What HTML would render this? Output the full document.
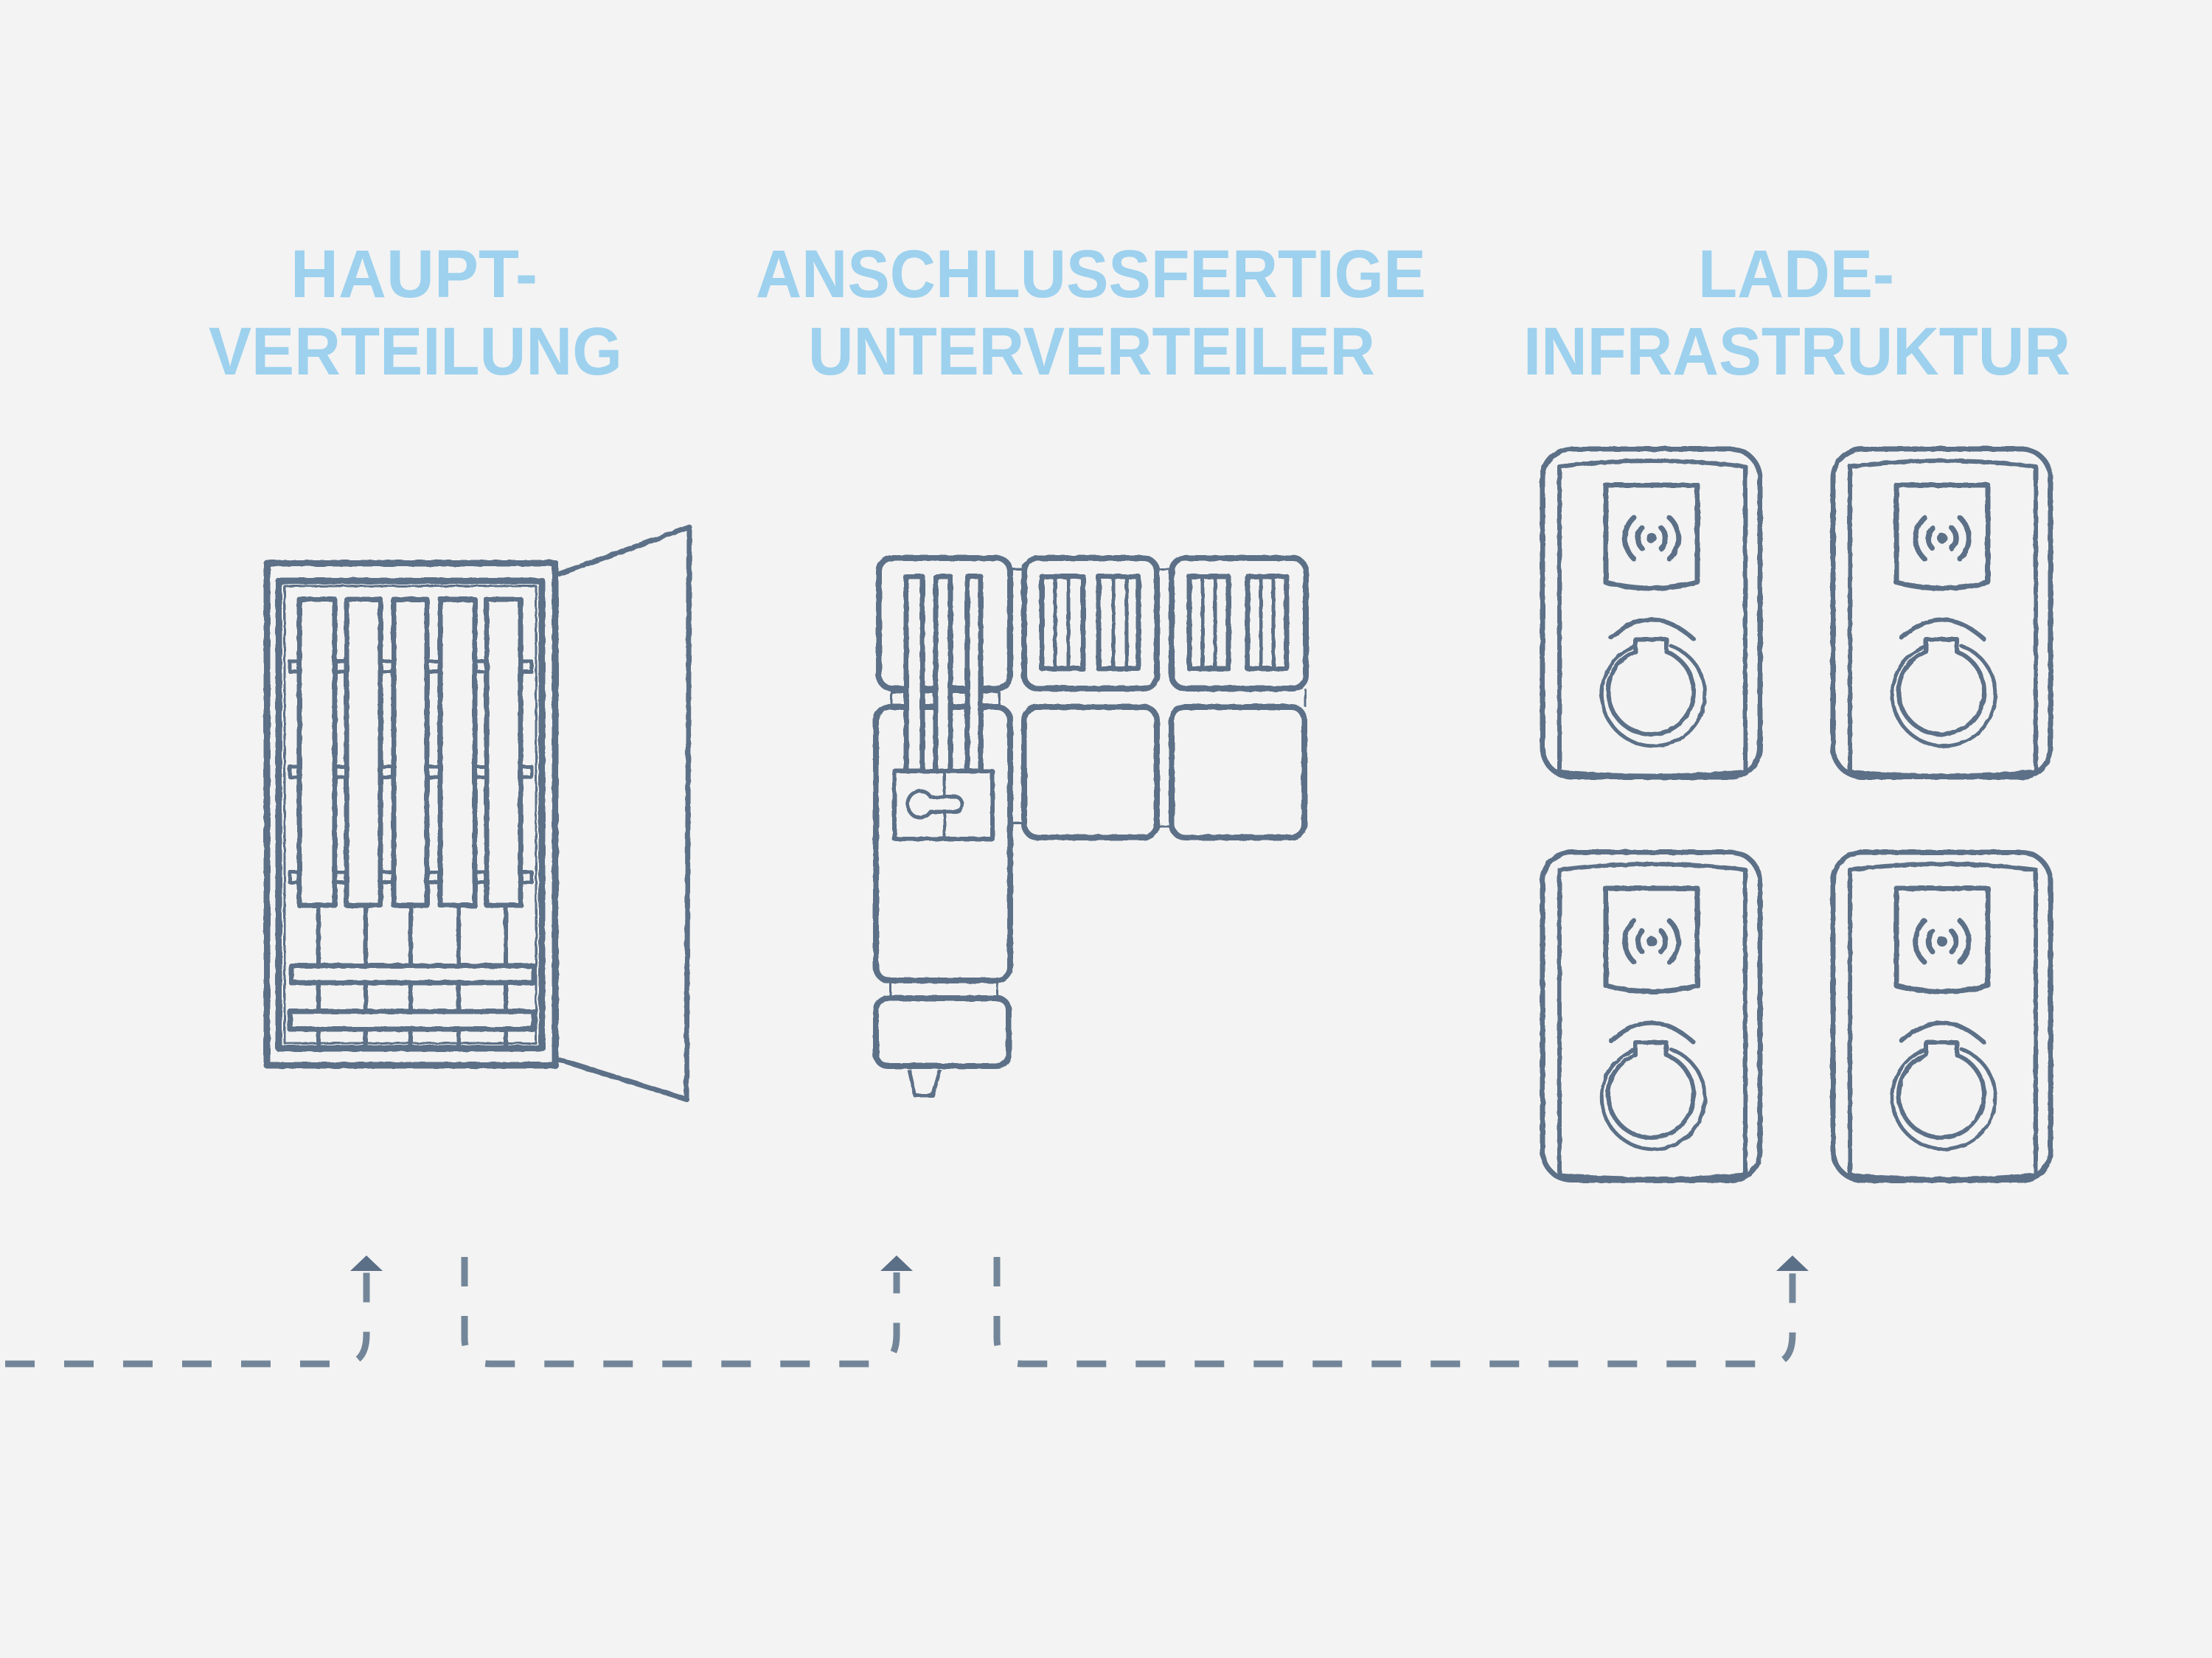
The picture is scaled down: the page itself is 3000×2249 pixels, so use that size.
<!DOCTYPE html>
<html><head><meta charset="utf-8"><style>
html,body{margin:0;padding:0;background:#f3f3f3;}
svg{display:block;}
</style></head><body>
<svg width="3000" height="2249" viewBox="0 0 3000 2249" xmlns="http://www.w3.org/2000/svg">
<defs>
<filter id="rough" x="-5%" y="-5%" width="110%" height="110%">
<feTurbulence type="fractalNoise" baseFrequency="0.08" numOctaves="2" seed="3"/>
<feDisplacementMap in="SourceGraphic" scale="3"/>
</filter>
<g id="charger" fill="none" stroke="#5b6f87" stroke-linecap="round" stroke-linejoin="round">
<rect x="2092" y="609" width="295" height="445" rx="40" stroke-width="7"/>
<path d="M2115,1047 V633 Q2240,617 2367,633 V1047 Q2240,1058 2115,1047 Z" stroke-width="6"/>
<path d="M2178,658 H2302 V790 Q2240,806 2178,790 Z" stroke-width="7"/>
<circle cx="2240" cy="730" r="7" fill="#5b6f87" stroke="none"/>
<path d="M2227,716 A20,20 0 0 0 2227,744 M2253,716 A20,20 0 0 1 2253,744" stroke-width="7"/>
<path d="M2216,702 A38,38 0 0 0 2216,758 M2264,702 A38,38 0 0 1 2264,758" stroke-width="7"/>
<path d="M2185,865 Q2240,815 2297,867" stroke-width="6"/>
<path d="M2216,877 A70,70 0 1 0 2266,876" stroke-width="5"/>
<path d="M2218,884 V867 H2260 V884 A58,58 0 1 1 2218,884 Z" stroke-width="6"/>
</g>
</defs>

<g font-family="'Liberation Sans', sans-serif" font-weight="bold" font-size="92" fill="#9dd1ee">
<text x="394" y="403" textLength="335" lengthAdjust="spacingAndGlyphs">HAUPT-</text>
<text x="283" y="508" textLength="561" lengthAdjust="spacingAndGlyphs">VERTEILUNG</text>
<text x="1025" y="403" textLength="909" lengthAdjust="spacingAndGlyphs">ANSCHLUSSFERTIGE</text>
<text x="1096" y="508" textLength="769" lengthAdjust="spacingAndGlyphs">UNTERVERTEILER</text>
<text x="2303" y="403" textLength="266" lengthAdjust="spacingAndGlyphs">LADE-</text>
<text x="2066" y="508" textLength="742" lengthAdjust="spacingAndGlyphs">INFRASTRUKTUR</text>
</g>

<g filter="url(#rough)">
<!-- Main distribution cabinet -->
<g fill="none" stroke="#5b6f87" stroke-linejoin="round">
<rect x="362" y="764" width="391" height="681" stroke-width="9"/>
<rect x="378" y="788" width="357" height="634" stroke-width="9"/>
<rect x="386" y="795" width="341" height="620" stroke-width="3"/>
<rect x="393" y="897" width="328" height="14" stroke-width="5"/>
<rect x="393" y="1040" width="328" height="14" stroke-width="5"/>
<rect x="393" y="1183" width="328" height="14" stroke-width="5"/>
<g fill="#f3f3f3" stroke-width="7">
<rect x="406" y="813" width="48" height="415"/>
<rect x="470" y="813" width="46" height="415"/>
<rect x="534" y="813" width="45" height="415"/>
<rect x="597" y="813" width="47" height="415"/>
<rect x="660" y="813" width="46" height="415"/>
</g>
<path d="M432,1228 V1422 M496,1228 V1422 M557,1228 V1422 M622,1228 V1422 M686,1228 V1422" stroke-width="6"/>
<rect x="395" y="1310" width="329" height="23" fill="#f3f3f3" stroke-width="7"/>
<rect x="393" y="1372" width="331" height="24" fill="#f3f3f3" stroke-width="7"/>
<path d="M757,779 L935,715 L931,1491 L757,1437" stroke-width="7"/>
</g>

<!-- Sub-distribution -->
<g fill="none" stroke="#5b6f87" stroke-linejoin="round" stroke-width="8">
<path d="M1370,772 H1389 M1569,772 H1589 M1370,1116 H1389 M1569,1121 H1589 M1209,934 V959 M1355,934 V959 M1208,1330 V1354 M1353,1330 V1354 M1770,934 V959" stroke-width="3"/>
<rect x="1192" y="757" width="178" height="177" rx="18"/>
<rect x="1389" y="757" width="180" height="177" rx="18"/>
<rect x="1589" y="757" width="182" height="177" rx="18"/>
<rect x="1188" y="959" width="182" height="371" rx="18"/>
<rect x="1389" y="959" width="180" height="177" rx="18"/>
<rect x="1589" y="959" width="180" height="177" rx="18"/>
<rect x="1188" y="1354" width="180" height="92" rx="16"/>
<path d="M1233,1451 L1241,1486 H1265 L1275,1451" stroke-width="5"/>
<path d="M1209,938 H1355 M1209,957 H1355" stroke-width="5"/>
<g stroke-width="7">
<rect x="1229" y="782" width="22" height="264" fill="#f3f3f3"/>
<rect x="1269" y="782" width="20" height="264" fill="#f3f3f3"/>
<rect x="1312" y="782" width="18" height="264" fill="#f3f3f3"/>
</g>
<rect x="1213" y="1046" width="133" height="92" stroke-width="6" fill="#f3f3f3"/>
<path d="M1281,1046 V1138" stroke-width="4"/>
<path d="M1262,1081 A17,18 0 1 0 1262,1101 H1296 A9,10 0 0 0 1296,1081 Z" stroke-width="5" fill="#f3f3f3"/>
<g stroke-width="7">
<rect x="1413" y="782" width="56" height="125"/>
<rect x="1490" y="782" width="54" height="125"/>
<rect x="1613" y="782" width="53" height="125"/>
<rect x="1692" y="782" width="53" height="125"/>
</g>
<path d="M1431,784 V905 M1449,784 V905 M1510,784 V905 M1528,784 V905 M1631,784 V905 M1648,784 V905 M1710,784 V905 M1727,784 V905" stroke-width="5"/>
</g>

<!-- Chargers -->
<use href="#charger"/>
<use href="#charger" x="394"/>
<use href="#charger" y="547"/>
<use href="#charger" x="394" y="547"/>
</g>

<!-- Dashed connectors -->
<g fill="none" stroke="#738699" stroke-width="9" stroke-dasharray="40 40">
<path d="M7,1850 H465 Q497,1850 497,1810 V1726"/>
<path d="M630,1705 V1815 Q630,1850 665,1850 H1185 Q1216,1850 1216,1810 V1726"/>
<path d="M1352,1705 V1815 Q1352,1850 1387,1850 H2400 Q2431,1850 2431,1810 V1726"/>
</g>
<g fill="#5b6f87">
<polygon points="497,1703 475,1724 519,1724"/>
<polygon points="1216,1703 1194,1724 1238,1724"/>
<polygon points="2431,1703 2409,1724 2453,1724"/>
</g>
</svg>
</body></html>
